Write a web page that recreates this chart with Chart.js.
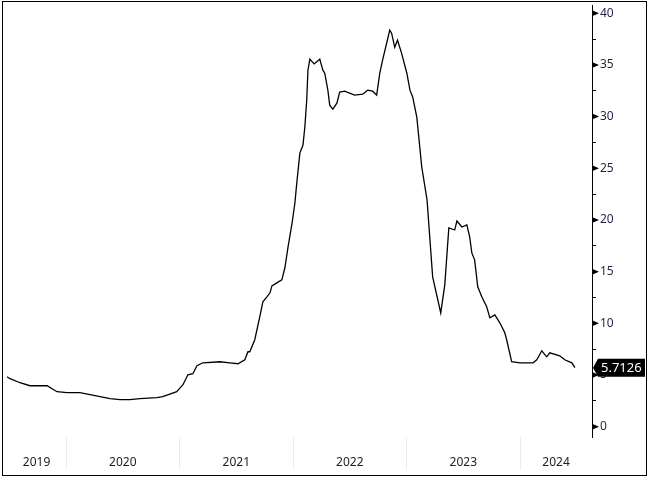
<!DOCTYPE html>
<html>
<head>
<meta charset="utf-8">
<script src="https://cdn.jsdelivr.net/npm/chart.js@4.4.1/dist/chart.umd.min.js"></script>
<style>
  html, body { margin: 0; padding: 0; background: #fff; }
  #wrap { position: relative; width: 650px; height: 481px; }
  #frame {
    position: absolute; left: 2px; top: 1px; width: 645px; height: 475px;
    border: 1px solid #000; box-sizing: border-box; pointer-events: none;
  }
</style>
</head>
<body>
<div id="wrap">
  <canvas id="chart" width="650" height="481"></canvas>
  <div id="frame"></div>
</div>
<script>
// Dates and values
const dates = [
  '2019-06-25', '2019-07-05', '2019-08-06', '2019-09-07', '2019-11-01', '2019-12-03',
  '2020-01-04', '2020-02-15', '2020-03-18', '2020-04-20', '2020-05-22', '2020-06-23',
  '2020-07-25', '2020-08-26', '2020-10-20', '2020-11-08', '2020-12-23',
  '2021-01-12', '2021-01-28', '2021-02-13', '2021-02-26', '2021-03-17', '2021-05-11',
  '2021-06-12', '2021-07-08', '2021-07-30', '2021-08-09', '2021-08-15', '2021-08-31',
  '2021-09-16', '2021-09-26', '2021-10-09', '2021-10-19', '2021-10-25', '2021-11-10',
  '2021-11-26', '2021-12-06', '2021-12-16', '2021-12-29',
  '2022-01-07', '2022-01-13', '2022-01-23', '2022-02-02', '2022-02-08', '2022-02-14',
  '2022-02-18', '2022-02-24', '2022-03-10', '2022-03-28', '2022-04-07', '2022-04-13',
  '2022-04-23', '2022-04-29', '2022-05-09', '2022-05-22', '2022-05-31', '2022-06-16',
  '2022-07-18', '2022-08-13', '2022-08-29', '2022-09-14', '2022-09-27', '2022-10-07',
  '2022-10-16', '2022-10-29', '2022-11-08', '2022-11-14', '2022-11-24', '2022-12-03',
  '2022-12-16',
  '2023-01-02', '2023-01-12', '2023-01-21', '2023-02-03', '2023-02-19', '2023-03-08',
  '2023-03-26', '2023-04-21', '2023-05-04', '2023-05-17', '2023-06-05', '2023-06-12',
  '2023-06-28', '2023-07-14', '2023-07-23', '2023-07-30', '2023-08-08', '2023-08-18',
  '2023-08-31', '2023-09-16', '2023-09-26', '2023-10-12', '2023-10-28', '2023-11-13',
  '2023-11-19', '2023-12-05',
  '2024-01-01', '2024-02-12', '2024-02-24', '2024-03-11', '2024-03-27', '2024-04-06',
  '2024-05-08', '2024-05-24', '2024-06-16', '2024-06-26'
];
const values = [
  4.83, 4.64, 4.25, 3.96, 3.96, 3.38,
  3.29, 3.29, 3.09, 2.90, 2.71, 2.61,
  2.61, 2.71, 2.80, 2.90, 3.38,
  4.06, 5.02, 5.12, 5.89, 6.18, 6.28,
  6.18, 6.09, 6.47, 7.25, 7.25, 8.41,
  10.63, 12.08, 12.56, 12.95, 13.62, 13.91,
  14.20, 15.40, 17.39, 19.71,
  21.64, 23.57, 26.47, 27.25, 28.99, 31.59,
  34.49, 35.56, 35.10, 35.56, 34.49, 34.20,
  32.56, 31.11, 30.72, 31.30, 32.37, 32.46,
  32.08, 32.17, 32.56, 32.46, 32.08, 34.20,
  35.46, 37.10, 38.36, 38.07, 36.71, 37.39,
  36.14,
  34.20, 32.56, 31.88, 29.95, 25.12, 21.93,
  14.49, 11.01, 13.72, 19.23, 19.03, 19.90,
  19.32, 19.52, 18.36, 16.81, 16.14, 13.53,
  12.56, 11.59, 10.53, 10.82, 10.05, 9.08,
  8.41, 6.28,
  6.18, 6.18, 6.47, 7.34, 6.76, 7.15,
  6.86, 6.47, 6.18, 5.7126
];
const yearLabels = ['2019', '2020', '2021', '2022', '2023', '2024'];
const yTicks = [0, 5, 10, 15, 20, 25, 30, 35, 40];
const lastLabel = '5.7126';

function toYear(s) {
  const [y, m, d] = s.split('-').map(Number);
  const start = Date.UTC(y, 0, 1);
  const end = Date.UTC(y + 1, 0, 1);
  return y + (Date.UTC(y, m - 1, d) - start) / (end - start);
}

const points = dates.map((d, i) => ({ x: toYear(d), y: values[i] }));
const xMin = 2019.48;
const xMax = 2024.634;
const fontFamily = '"Noto Sans", "DejaVu Sans", sans-serif';

// Triangle markers on the major y ticks and the last value tag
const markerPlugin = {
  id: 'markers',
  afterDraw(chart) {
    const ctx = chart.ctx;
    const y = chart.scales.y;
    const axisX = y.left;
    ctx.save();
    ctx.fillStyle = '#000';
    yTicks.forEach(v => {
      const py = y.getPixelForValue(v);
      ctx.beginPath();
      ctx.moveTo(axisX, py - 3);
      ctx.lineTo(axisX + 7, py);
      ctx.lineTo(axisX, py + 3);
      ctx.closePath();
      ctx.fill();
    });
    const last = values[values.length - 1];
    const py = y.getPixelForValue(last);
    ctx.beginPath();
    ctx.moveTo(axisX + 1, py);
    ctx.lineTo(axisX + 6, py - 9);
    ctx.lineTo(645, py - 9);
    ctx.lineTo(645, py + 9);
    ctx.lineTo(axisX + 6, py + 9);
    ctx.closePath();
    ctx.fill();
    ctx.fillStyle = '#fff';
    ctx.font = '13px ' + fontFamily;
    ctx.textBaseline = 'middle';
    ctx.textAlign = 'left';
    ctx.fillText(lastLabel, axisX + 9, py + 1);
    ctx.restore();
  }
};

new Chart(document.getElementById('chart'), {
  type: 'line',
  data: {
    datasets: [{
      data: points,
      borderColor: '#000',
      borderWidth: 1.3,
      pointRadius: 0,
      tension: 0,
      fill: false
    }]
  },
  options: {
    responsive: false,
    animation: false,
    layout: { padding: { left: 7, top: 5, right: 0, bottom: 0 } },
    plugins: { legend: { display: false }, tooltip: { enabled: false } },
    scales: {
      x: {
        type: 'linear',
        min: xMin,
        max: xMax,
        border: { display: false },
        grid: {
          drawOnChartArea: false,
          drawTicks: true,
          tickLength: 33,
          tickColor: c => Number.isInteger(c.tick.value) ? '#ececec' : 'rgba(0,0,0,0)'
        },
        ticks: {
          autoSkip: false,
          maxRotation: 0,
          padding: -15,
          color: '#222',
          font: { family: fontFamily, size: 12 },
          callback: v => Number.isInteger(v) ? '' : String(Math.floor(v))
        },
        afterBuildTicks(scale) {
          const ticks = [];
          yearLabels.forEach((lab, i) => {
            const yr = Number(lab);
            const lo = Math.max(yr, xMin);
            const hi = Math.min(yr + 1, xMax);
            if (i > 0) ticks.push({ value: yr });
            ticks.push({ value: (lo + hi) / 2 });
          });
          scale.ticks = ticks;
        },
        afterFit(scale) {
          scale.height = 44;
          scale.paddingLeft = 0;
          scale.paddingRight = 0;
        }
      },
      y: {
        position: 'right',
        min: -1,
        max: 40.8,
        border: { display: true, color: '#000', width: 1 },
        grid: {
          drawOnChartArea: false,
          drawTicks: true,
          tickLength: 4,
          tickColor: '#000'
        },
        ticks: {
          padding: 4,
          color: '#1c2540',
          font: { family: fontFamily, size: 12 },
          callback: v => (v % 5 === 0 ? String(v) : '')
        },
        afterBuildTicks(scale) {
          const ticks = [];
          for (let v = 0; v <= 40; v += 2.5) ticks.push({ value: v });
          scale.ticks = ticks;
        },
        afterFit(scale) {
          scale.width = 58;
          scale.paddingTop = 0;
          scale.paddingBottom = 0;
        }
      }
    }
  },
  plugins: [markerPlugin]
});
</script>
</body>
</html>
